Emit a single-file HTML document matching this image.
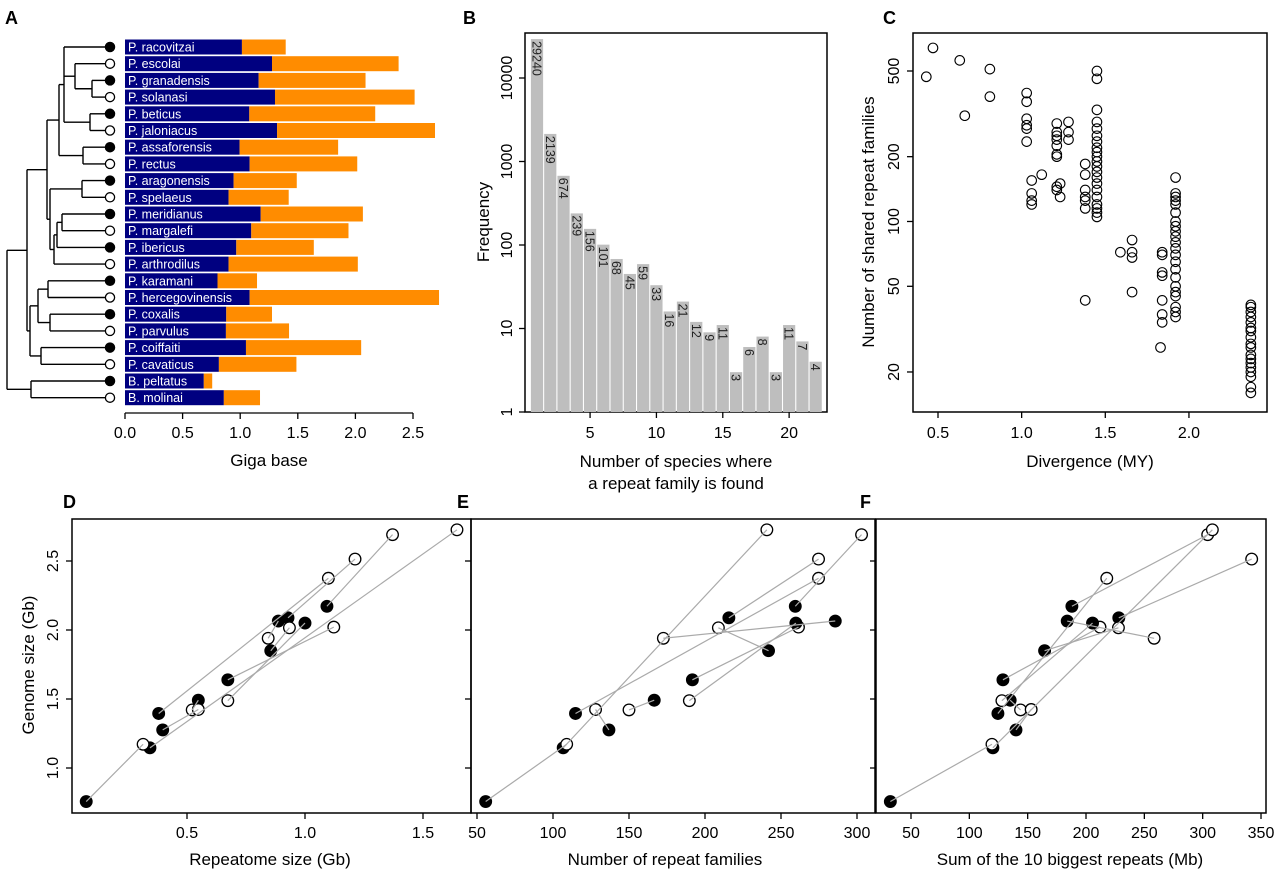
<!DOCTYPE html>
<html><head><meta charset="utf-8"><style>
html,body{margin:0;padding:0;background:#fff;}
svg{display:block;font-family:"Liberation Sans",Arial,sans-serif;}
</style></head><body>
<svg id="fig" width="1280" height="875" viewBox="0 0 1280 875" xmlns="http://www.w3.org/2000/svg"></svg>
<script>
// ---------- DATA ----------
const species = ["P. racovitzai","P. escolai","P. granadensis","P. solanasi","P. beticus","P. jaloniacus","P. assaforensis","P. rectus","P. aragonensis","P. spelaeus","P. meridianus","P. margalefi","P. ibericus","P. arthrodilus","P. karamani","P. hercegovinensis","P. coxalis","P. parvulus","P. coiffaiti","P. cavaticus","B. peltatus","B. molinai"];
const genomeSize = [1.395,2.375,2.088,2.514,2.172,2.691,1.85,2.016,1.491,1.421,2.065,1.94,1.639,2.021,1.146,2.726,1.276,1.424,2.05,1.488,0.757,1.172];
const repeatomeSize = [0.38,1.099,0.928,1.212,1.093,1.371,0.855,0.934,0.548,0.522,0.887,0.844,0.673,1.122,0.343,1.644,0.397,0.548,1.0,0.673,0.073,0.314];
const repeatFamilies = [114.8,274.7,215.7,274.7,259.4,303,241.8,208.8,166.6,150,285.7,172.6,191.7,261.5,106.7,240.7,136.8,128,259.8,189.7,55.7,109];
const top10Repeats = [124.5,217.8,228.1,342,187.9,304.3,164.5,227.8,135,143.9,183.9,258.4,128.8,212,120.2,308.3,140,153,205.6,127.9,32.3,119.4];
const filledFlag = [1,0,1,0,1,0,1,0,1,0,1,0,1,0,1,0,1,0,1,0,1,0];
const histCounts = [29240,2139,674,239,156,101,68,45,59,33,16,21,12,9,11,3,6,8,3,11,7,4];
const divX = [0.43,0.47,0.63,0.66,0.81,0.81,1.03,1.03,1.03,1.03,1.03,1.03,1.06,1.06,1.06,1.06,1.12,1.21,1.21,1.21,1.21,1.21,1.21,1.21,1.21,1.21,1.23,1.23,1.28,1.28,1.28,1.38,1.38,1.38,1.38,1.38,1.38,1.38,1.45,1.45,1.45,1.45,1.45,1.45,1.45,1.45,1.45,1.45,1.45,1.45,1.45,1.45,1.45,1.45,1.45,1.45,1.45,1.45,1.45,1.59,1.66,1.66,1.66,1.66,1.84,1.84,1.84,1.84,1.84,1.84,1.84,1.83,1.92,1.92,1.92,1.92,1.92,1.92,1.92,1.92,1.92,1.92,1.92,1.92,1.92,1.92,1.92,1.92,1.92,1.92,1.92,1.92,1.92,1.92,2.37,2.37,2.37,2.37,2.37,2.37,2.37,2.37,2.37,2.37,2.37,2.37,2.37,2.37,2.37,2.37,2.37,2.37];
const sharedFam = [470,640,560,310,510,380,395,360,300,280,270,235,155,135,125,120,165,285,260,250,240,225,205,200,145,140,150,130,290,260,240,185,165,140,130,125,115,43,500,460,330,290,270,250,235,220,210,200,190,180,170,160,150,140,130,120,115,110,105,72,82,72,68,47,72,70,58,56,43,37,34,26,160,135,130,125,120,110,100,95,90,85,80,75,70,65,60,55,50,47,45,40,38,36,41,40,38,36,34,32,31,29,27,26,24,23,22,21,20,19,17,16];
const barTicksA = [0,0.5,1,1.5,2,2.5];
const histXTicks = [5,10,15,20];
const histYTicks = [1,10,100,1000,10000];
const divXTicks = [0.5,1.0,1.5,2.0];
const divYTicks = [20,50,100,200,500];
const genomeTicks = [1.0,1.5,2.0,2.5];
const repTicks = [0.5,1.0,1.5];
const famTicks = [50,100,150,200,250,300];
const top10Ticks = [50,100,150,200,250,300,350];
// tree topology: [nodeX, children...]; leaves are species indices
const tree = [7,[27,[47,[59,[64,0,[75,1,[92,2,3]],[90,4,5]],[83,6,7]],[50,[82,8,9],[54,[57,[62,10,11],12],13]]],[30,[38,[48,14,15],[50,16,17]],[41,18,19]]],[31,20,21]];

// ---------- HELPERS ----------
const NS = "http://www.w3.org/2000/svg";
const svg = document.getElementById("fig");
function el(tag, attrs, parent){
  const e = document.createElementNS(NS, tag);
  for (const k in attrs) e.setAttribute(k, attrs[k]);
  (parent || svg).appendChild(e);
  return e;
}
function txt(s, x, y, size, opts, parent){
  opts = opts || {};
  const t = el("text", {x:x, y:y, "font-size":size, "text-anchor":opts.anchor||"middle", fill:opts.fill||"#000"}, parent);
  if (opts.weight) t.setAttribute("font-weight", opts.weight);
  if (opts.rot !== undefined) t.setAttribute("transform", "rotate(" + opts.rot + " " + x + " " + y + ")");
  t.textContent = s;
  return t;
}
function grp(name){
  const g = el("g", {});
  
  
  return g;
}

// panel letters
const letters = [["A",5,24],["B",463,24],["C",883,24],["D",63,508],["E",457,508],["F",860,508]];
for (const L of letters){
  const t = txt(L[0], L[1], L[2], 18, {anchor:"start", weight:"bold"});
  
  
}

// ---------- PANEL A ----------
const gA = grp("panel-a-genome-bars");
const ax0 = 125, axScale = 115.2;
const rowY = i => 47 + i * 16.7;
const xA = v => ax0 + v * axScale;
species.forEach((s, i) => {
  const blueEnd = genomeSize[i] - repeatomeSize[i];
  const r1 = el("rect", {x:xA(0), y:rowY(i)-7.5, width:xA(blueEnd)-xA(0), height:15, fill:"#000080"}, gA);
  
  
  const r2 = el("rect", {x:xA(blueEnd), y:rowY(i)-7.5, width:xA(genomeSize[i])-xA(blueEnd), height:15, fill:"#ff8c00"}, gA);
  
  
  const t = txt(s, 128, rowY(i)+4.5, 12.5, {anchor:"start", fill:"#fff"}, gA);
  
  
  const c = el("circle", {cx:110, cy:rowY(i), r:4.6, fill:filledFlag[i] ? "#000" : "#fff", stroke:"#000", "stroke-width":1.3}, gA);
  
  
});
// tree
const gT = grp("phylogeny-tree");
function drawNode(n){
  if (typeof n === "number") return {x:105, y:rowY(n)};
  const x = n[0];
  const kids = n.slice(1).map(drawNode);
  const ys = kids.map(k => k.y);
  const y0 = Math.min(...ys), y1 = Math.max(...ys);
  el("line", {x1:x, y1:y0, x2:x, y2:y1, stroke:"#000", "stroke-width":1.4}, gT);
  kids.forEach(k => el("line", {x1:x, y1:k.y, x2:k.x, y2:k.y, stroke:"#000", "stroke-width":1.4}, gT));
  return {x:x, y:(y0 + y1) / 2};
}
drawNode(tree);
// axis A
const gAx = grp("x-axis-a");
el("line", {x1:xA(0), y1:413, x2:xA(2.5), y2:413, stroke:"#000", "stroke-width":1.3}, gAx);
barTicksA.forEach(v => {
  el("line", {x1:xA(v), y1:413, x2:xA(v), y2:419, stroke:"#000", "stroke-width":1.3}, gAx);
  txt(v.toFixed(1), xA(v), 438, 16, {}, gAx);
});
const ta = txt("Giga base", 269, 466, 17, {});



// ---------- PANEL B ----------
const gB = grp("panel-b-histogram");
const bL = 525, bR = 827, bT = 33, bB = 412;
const xB = v => 537 + (v - 1) * 13.27;
const yB = v => 412 - Math.log10(v) * 83.5;
el("rect", {x:bL, y:bT, width:bR-bL, height:bB-bT, fill:"none", stroke:"#000", "stroke-width":1.5}, gB);
histCounts.forEach((c, i) => {
  const k = i + 1;
  const r = el("rect", {x:xB(k)-6.1, y:yB(c), width:12.2, height:bB-yB(c), fill:"#bebebe"}, gB);
  
  
  const t = txt(String(c), xB(k)-4.5, yB(c)+2, 12.5, {anchor:"start", fill:"#222", rot:90}, gB);
  
  
});
histXTicks.forEach(v => {
  el("line", {x1:xB(v), y1:bB, x2:xB(v), y2:bB+6, stroke:"#000", "stroke-width":1.3}, gB);
  txt(String(v), xB(v), 438, 16, {}, gB);
});
histYTicks.forEach(v => {
  el("line", {x1:bL, y1:yB(v), x2:bL-6, y2:yB(v), stroke:"#000", "stroke-width":1.3}, gB);
  txt(String(v), 512, yB(v), 16, {rot:-90}, gB);
});
const tb1 = txt("Frequency", 489, 222, 17, {rot:-90});


const tb2 = txt("Number of species where", 676, 467, 17, {});


const tb3 = txt("a repeat family is found", 676, 489, 17, {});



// ---------- PANEL C ----------
const gC = grp("panel-c-scatter");
const cL = 913, cR = 1267, cT = 33, cB = 412;
const xC = v => 938 + (v - 0.5) * 167.3;
const yC = v => 71 + (Math.log10(500) - Math.log10(v)) * 215.3;
el("rect", {x:cL, y:cT, width:cR-cL, height:cB-cT, fill:"none", stroke:"#000", "stroke-width":1.5}, gC);
divX.forEach((d, i) => {
  const c = el("circle", {cx:xC(d), cy:yC(sharedFam[i]), r:4.8, fill:"none", stroke:"#000", "stroke-width":1.1}, gC);
  
  
});
divXTicks.forEach(v => {
  el("line", {x1:xC(v), y1:cB, x2:xC(v), y2:cB+6, stroke:"#000", "stroke-width":1.3}, gC);
  txt(v.toFixed(1), xC(v), 438, 16, {}, gC);
});
divYTicks.forEach(v => {
  el("line", {x1:cL, y1:yC(v), x2:cL-6, y2:yC(v), stroke:"#000", "stroke-width":1.3}, gC);
  txt(String(v), 899, yC(v), 16, {rot:-90}, gC);
});
const tc1 = txt("Number of shared repeat families", 874, 222, 17, {rot:-90});


const tc2 = txt("Divergence (MY)", 1090, 467, 17, {});



// ---------- PANELS D, E, F ----------
const yG = v => 768 - (v - 1) * 138;
const pT = 519, pB = 813;
function scatterPanel(name, left, right, xs, xf, ticks, fmt, title, titleX){
  const g = grp(name);
  el("rect", {x:left, y:pT, width:right-left, height:pB-pT, fill:"none", stroke:"#000", "stroke-width":1.5}, g);
  genomeTicks.forEach(v => el("line", {x1:left, y1:yG(v), x2:left-6, y2:yG(v), stroke:"#000", "stroke-width":1.3}, g));
  ticks.forEach(v => {
    el("line", {x1:xf(v), y1:pB, x2:xf(v), y2:pB+6, stroke:"#000", "stroke-width":1.3}, g);
    txt(fmt(v), xf(v), 838, 16, {}, g);
  });
  xs.forEach((v, i) => {
    const c = el("circle", {cx:xf(v), cy:yG(genomeSize[i]), r:5.8, fill:filledFlag[i] ? "#000" : "#fff", stroke:"#000", "stroke-width":1.3}, g);
    
    
  });
  for (let i = 0; i < xs.length; i += 2){
    const l = el("line", {x1:xf(xs[i]), y1:yG(genomeSize[i]), x2:xf(xs[i+1]), y2:yG(genomeSize[i+1]), stroke:"#aaa", "stroke-width":1.2}, g);
    
    
  }
  const t = txt(title, titleX, 865, 17, {});
  
  
}
scatterPanel("panel-d", 72, 471, repeatomeSize, v => 187 + (v - 0.5) * 236, repTicks, v => v.toFixed(1), "Repeatome size (Gb)", 270);
scatterPanel("panel-e", 471, 875, repeatFamilies, v => 477 + (v - 50) * 1.52, famTicks, v => String(v), "Number of repeat families", 665);
scatterPanel("panel-f", 876, 1266, top10Repeats, v => 911 + (v - 50) * 1.1667, top10Ticks, v => String(v), "Sum of the 10 biggest repeats (Mb)", 1070);
const gY = grp("y-axis-genome");
genomeTicks.forEach(v => txt(v.toFixed(1), 58, yG(v), 16, {rot:-90}, gY));
const td = txt("Genome size (Gb)", 34, 665, 17, {rot:-90});


</script>
</body></html>
